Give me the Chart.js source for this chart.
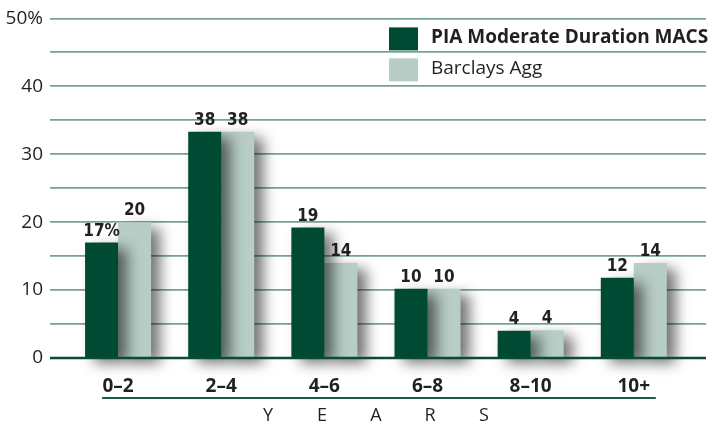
<!DOCTYPE html>
<html>
<head>
<meta charset="utf-8">
<script src="https://cdn.jsdelivr.net/npm/chart.js@4.4.0/dist/chart.umd.min.js"></script>
<style>
  html, body { margin: 0; padding: 0; background: #fff; }
  canvas { display: block; }
</style>
</head>
<body>
<canvas id="durationChart" width="708" height="426"></canvas>
<script>
// maturity buckets (years)
const categories = ['0–2', '2–4', '4–6', '6–8', '8–10', '10+'];
// bar heights as drawn in the source graphic
const piaValues = [17, 33.3, 19.2, 10.2, 4, 11.8];
const aggValues = [20, 33.3, 14, 10.2, 4.1, 14];
// printed value labels
const piaLabels = ['17%', '38', '19', '10', '4', '12'];
const aggLabels = ['20', '38', '14', '10', '4', '14'];
const seriesNames = ['PIA Moderate Duration MACS', 'Barclays Agg'];
const yMax = 50;

const DARK = '#004a33';
const LIGHT = '#b7cdc5';
const TEXT = '#231f20';
const SANS = "'Open Sans', 'Noto Sans', sans-serif";
const NARROW = "'Liberation Sans Narrow', 'DejaVu Sans Condensed', sans-serif";

// drop shadow behind each bar
const shadowPlugin = {
    id: 'barShadow',
    beforeDatasetDraw(chart) {
        const c = chart.ctx;
        c.save();
        c.shadowColor = 'rgba(0,0,0,0.55)';
        c.shadowBlur = 14;
        c.shadowOffsetX = 9;
        c.shadowOffsetY = 6;
    },
    afterDatasetDraw(chart) {
        chart.ctx.restore();
    }
};

const overlayPlugin = {
    id: 'overlay',
    afterDatasetsDraw(chart) {
        const c = chart.ctx;
        const area = chart.chartArea;
        c.save();

        // zero line
        c.strokeStyle = '#0b4a33';
        c.lineWidth = 2.5;
        c.beginPath();
        c.moveTo(area.left, area.bottom);
        c.lineTo(area.right, area.bottom);
        c.stroke();

        // value labels
        c.fillStyle = TEXT;
        c.font = 'bold 17px ' + NARROW;
        c.textAlign = 'center';
        c.textBaseline = 'alphabetic';
        [piaLabels, aggLabels].forEach((labels, d) => {
            chart.getDatasetMeta(d).data.forEach((bar, i) => {
                c.fillText(labels[i], bar.x, bar.y - 7);
            });
        });

        // legend
        const lx = area.right - 317;
        c.textAlign = 'left';
        c.textBaseline = 'middle';
        [DARK, LIGHT].forEach((col, i) => {
            const y = area.top + 9 + i * 31;
            c.fillStyle = col;
            c.fillRect(lx, y, 29, 23);
            c.fillStyle = TEXT;
            c.font = (i === 0 ? 'bold ' : '') + '19px ' + SANS;
            c.fillText(seriesNames[i], lx + 42, y + 10);
        });

        // underline and axis word
        const xs = chart.scales.x;
        c.strokeStyle = '#1f5a44';
        c.lineWidth = 2;
        c.beginPath();
        c.moveTo(xs.getPixelForValue(0) - 16, 398);
        c.lineTo(xs.getPixelForValue(5) + 22, 398);
        c.stroke();

        c.fillStyle = TEXT;
        c.font = '18px ' + SANS;
        c.textAlign = 'center';
        const mid = (area.left + area.right) / 2 - 2;
        'YEARS'.split('').forEach((ch, i) => {
            c.fillText(ch, mid + (i - 2) * 54, 416);
        });
        c.restore();
    }
};

const ctx = document.getElementById('durationChart').getContext('2d');
const durationChart = new Chart(ctx, {
    type: 'bar',
    data: {
        datasets: [{
            label: seriesNames[0],
            data: piaValues.map((v, i) => ({ x: i, y: v })),
            backgroundColor: DARK,
            clip: false
        }, {
            label: seriesNames[1],
            data: aggValues.map((v, i) => ({ x: i, y: v })),
            backgroundColor: LIGHT,
            clip: false
        }]
    },
    plugins: [shadowPlugin, overlayPlugin],
    options: {
        responsive: false,
        animation: false,
        devicePixelRatio: 1,
        categoryPercentage: 0.64,
        barPercentage: 1.0,
        layout: { padding: { top: 17, right: 2, left: 0, bottom: 0 } },
        plugins: {
            legend: { display: false },
            tooltip: { enabled: false }
        },
        scales: {
            x: {
                type: 'linear',
                offset: false,
                min: -0.66,
                max: 5.7,
                grid: { display: false, drawTicks: false },
                border: { display: false },
                ticks: {
                    stepSize: 1,
                    includeBounds: false,
                    autoSkip: false,
                    maxRotation: 0,
                    padding: 17,
                    color: TEXT,
                    font: { family: SANS, size: 19, weight: 'bold' },
                    callback: (v) => categories[v] !== undefined ? categories[v] : ''
                },
                afterFit: (s) => { s.height = 68; }
            },
            y: {
                min: 0,
                max: yMax,
                grid: { color: '#77a391', lineWidth: 1.8, drawTicks: false },
                border: { display: false },
                ticks: {
                    stepSize: 5,
                    padding: 7,
                    color: TEXT,
                    font: { family: SANS, size: 19 },
                    callback: (v) => v % 10 !== 0 ? '' : (v === yMax ? v + '%' : String(v))
                },
                afterFit: (s) => { s.width = 50; }
            }
        }
    }
});
</script>
</body>
</html>
